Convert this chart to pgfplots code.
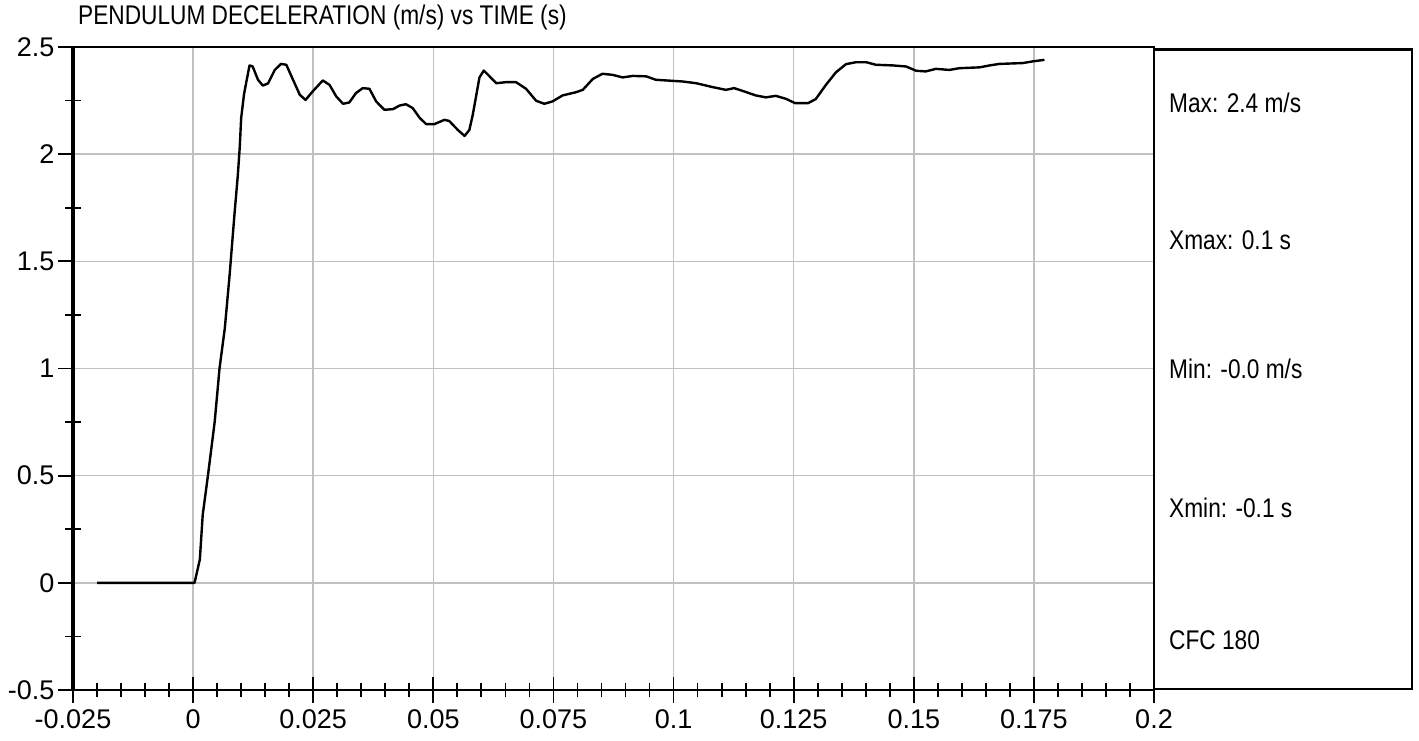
\documentclass[border=0pt]{standalone}
\usepackage{pgfplots}
\pgfplotsset{compat=1.18}
\usepackage{pgfplotstable}
\usepackage{fontspec}
\setmainfont{Liberation Sans}
\newfontfamily\narrowfont[FakeStretch=0.84]{Liberation Sans}
\definecolor{gridgray}{RGB}{192,192,192}

\pgfplotstableread{
t a
-0.0200 0
0.0003 0
0.0014 0.109
0.0020 0.317
0.0031 0.503
0.0045 0.753
0.0055 1.001
0.0066 1.188
0.0076 1.437
0.0086 1.717
0.0093 1.900
0.0097 2.030
0.0100 2.168
0.0106 2.280
0.0111 2.340
0.01175 2.414
0.0124 2.409
0.0135 2.347
0.0145 2.320
0.0156 2.330
0.0170 2.393
0.0183 2.421
0.0194 2.417
0.0208 2.347
0.0222 2.277
0.0234 2.253
0.0249 2.293
0.0270 2.344
0.0284 2.323
0.0298 2.269
0.0312 2.235
0.0325 2.241
0.0339 2.285
0.0353 2.308
0.0367 2.305
0.0381 2.246
0.0398 2.207
0.0416 2.210
0.0430 2.227
0.0443 2.233
0.0457 2.215
0.0471 2.171
0.0485 2.140
0.0502 2.140
0.0523 2.160
0.0533 2.155
0.0551 2.113
0.0565 2.085
0.0575 2.113
0.0582 2.183
0.0589 2.270
0.0596 2.358
0.0605 2.390
0.0617 2.363
0.0631 2.331
0.0652 2.336
0.0672 2.336
0.0693 2.305
0.0714 2.249
0.0731 2.235
0.0748 2.246
0.0769 2.274
0.0797 2.289
0.0811 2.300
0.0832 2.351
0.0852 2.375
0.0873 2.370
0.0894 2.358
0.0915 2.365
0.0943 2.363
0.0963 2.347
0.0984 2.344
0.1019 2.339
0.1047 2.331
0.1081 2.313
0.1109 2.300
0.1126 2.308
0.1144 2.295
0.1171 2.274
0.1192 2.265
0.1213 2.272
0.1234 2.258
0.1253 2.238
0.1280 2.238
0.1296 2.257
0.1317 2.323
0.1338 2.382
0.1359 2.420
0.1380 2.429
0.1401 2.429
0.1421 2.417
0.1456 2.414
0.1484 2.409
0.1505 2.389
0.1525 2.386
0.1546 2.398
0.1574 2.393
0.1595 2.401
0.1637 2.405
0.1658 2.414
0.1678 2.421
0.1727 2.425
0.1748 2.433
0.1772 2.440
}\datatable

\begin{document}
\begin{tikzpicture}[x=1bp,y=1bp]
\path[use as bounding box] (0,0) rectangle (1419,740);
\begin{axis}[
  at={(73bp,50bp)}, anchor=south west,
  scale only axis, width=1081bp, height=643bp,
  xmin=-0.025, xmax=0.2, ymin=-0.5, ymax=2.5,
  xtick={-0.025,0,0.025,0.05,0.075,0.1,0.125,0.15,0.175,0.2},
  xticklabels={-0.025,0,0.025,0.05,0.075,0.1,0.125,0.15,0.175,0.2},
  minor x tick num=4,
  ytick={-0.5,0,0.5,1,1.5,2,2.5},
  yticklabels={-0.5,0,0.5,1,1.5,2,2.5},
  ytick style={draw=none},
  tick align=center,
  major tick length=26bp, minor tick length=14bp,
  every tick/.style={black, line width=1.8bp},
  xtick pos=bottom, ytick pos=left,
  grid=major,
  major grid style={gridgray, line width=1.6bp},
  axis line style={line width=2.2bp, black},
  tick label style={font=\fontsize{27bp}{30bp}\selectfont},
  yticklabel style={anchor=east, xshift=-2bp},
  xticklabel style={yshift=-3bp},
  clip=false,
]
\addplot[black, line width=2.4bp, line join=round] table[x=t, y=a] {\datatable};
\pgfplotsinvokeforeach{-0.5,0,0.5,1,1.5,2,2.5}{
  \draw[black, line width=1.8bp] (axis cs:-0.025,#1) -- ++(-15bp,0bp);
}
\pgfplotsinvokeforeach{-0.25,0.25,0.75,1.25,1.75,2.25}{
  \draw[black, line width=1.8bp] (axis cs:-0.025,#1) ++(-8bp,0bp) -- ++(16bp,0bp);
}
\draw[black, line width=4.5bp] (rel axis cs:0,0) -- (rel axis cs:0,1);
\end{axis}
\draw[black, line width=2.2bp] (1154,690.5) rectangle (1412,51);
\node[anchor=west, inner sep=0pt, font=\narrowfont\fontsize{27bp}{30bp}\selectfont] at (78,722) {PENDULUM DECELERATION (m/s) vs TIME (s)};
\begin{scope}[every node/.style={anchor=west, inner sep=0pt, font=\narrowfont\fontsize{27bp}{30bp}\selectfont}]
\node at (1169,637) {Max: 2.4 m/s};
\node at (1169,500) {Xmax: 0.1 s};
\node at (1169,371) {Min: -0.0 m/s};
\node at (1169,232) {Xmin: -0.1 s};
\node at (1169,100) {CFC 180};
\end{scope}
\end{tikzpicture}
\end{document}
